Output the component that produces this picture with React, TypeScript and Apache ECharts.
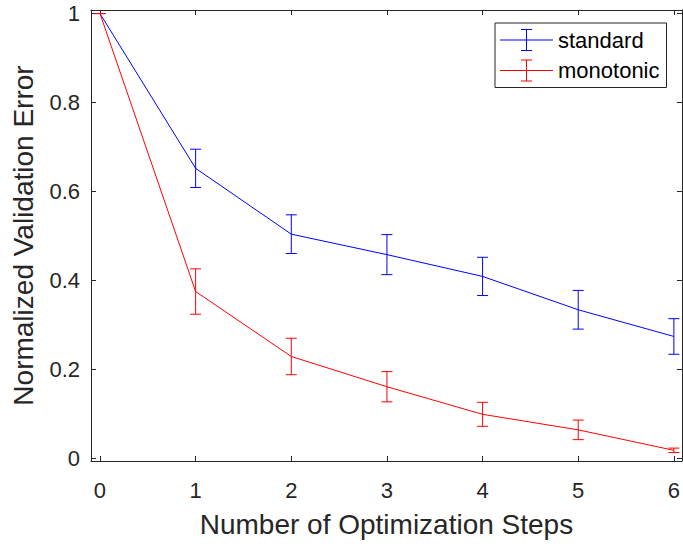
import React, { useEffect, useRef } from "react";
import * as echarts from "echarts";

const steps = [0, 1, 2, 3, 4, 5, 6];
const standardMean = [1, 0.652, 0.504, 0.458, 0.409, 0.334, 0.274];
const standardErr = [0, 0.043, 0.0435, 0.045, 0.043, 0.0435, 0.04];
const monotonicMean = [1, 0.375, 0.229, 0.161, 0.099, 0.064, 0.018];
const monotonicErr = [0, 0.051, 0.041, 0.034, 0.027, 0.022, 0.005];
const xTicks = [0, 1, 2, 3, 4, 5, 6];
const yTicks = [0, 0.2, 0.4, 0.6, 0.8, 1];
const seriesNames = ["standard", "monotonic"];

const BLUE = "#0000ff";
const RED = "#ff0000";
const AXIS = "#262626";
const FONT = "'Liberation Sans', Arial, sans-serif";

const legendIcon =
  "path://M0 10.5h53v1h-53zM26 0h1v22h-1zM21 0h11v1h-11zM21 21h11v1h-11z";

function errRender(color: string) {
  return (params: any, api: any) => {
    const x = api.value(0);
    const y = api.value(1);
    const e = api.value(2);
    const top = api.coord([x, y + e]);
    const bot = api.coord([x, y - e]);
    const hw = 5.5;
    const st = { stroke: color, lineWidth: 1 };
    return {
      type: "group",
      children: [
        { type: "line", shape: { x1: top[0], y1: top[1], x2: bot[0], y2: bot[1] }, style: st },
        { type: "line", shape: { x1: top[0] - hw, y1: top[1], x2: top[0] + hw, y2: top[1] }, style: st },
        { type: "line", shape: { x1: bot[0] - hw, y1: bot[1], x2: bot[0] + hw, y2: bot[1] }, style: st },
      ],
    };
  };
}

export default function App() {
  const ref = useRef<HTMLDivElement>(null);
  useEffect(() => {
    if (!ref.current) return;
    const chart = echarts.init(ref.current, undefined, { renderer: "svg" });
    const xMin = -0.094;
    const xMax = 6.084;
    const yMin = -0.006;
    const yMax = 1.008;
    const tickCommon = { show: true, inside: true, length: 5, lineStyle: { color: AXIS, width: 1 } };
    const lineCommon = { show: true, onZero: false, lineStyle: { color: AXIS, width: 1 } };
    const stdLine = steps.map((s, i) => [s, standardMean[i]]);
    const monLine = steps.map((s, i) => [s, monotonicMean[i]]);
    const stdErr = steps.map((s, i) => [s, standardMean[i], standardErr[i]]);
    const monErr = steps.map((s, i) => [s, monotonicMean[i], monotonicErr[i]]);
    chart.setOption({
      animation: false,
      backgroundColor: "#ffffff",
      grid: { left: 91, top: 10, right: 1, bottom: 83, containLabel: false },
      legend: {
        left: 495,
        top: 23,
        orient: "vertical",
        padding: [6, 7, 6, 5],
        itemGap: 8.5,
        itemWidth: 53,
        itemHeight: 22,
        borderColor: AXIS,
        borderWidth: 1,
        backgroundColor: "#ffffff",
        textStyle: { fontFamily: FONT, fontSize: 22, color: "#000000", padding: [0, 0, 0, 0] },
        data: [
          { name: seriesNames[0], icon: legendIcon, itemStyle: { color: BLUE } },
          { name: seriesNames[1], icon: legendIcon, itemStyle: { color: RED } },
        ],
        selectedMode: false,
      },
      xAxis: [
        {
          type: "value",
          min: xMin,
          max: xMax,
          position: "bottom",
          axisLine: lineCommon,
          axisTick: { ...tickCommon, customValues: xTicks },
          axisLabel: { customValues: xTicks, fontFamily: FONT, fontSize: 22, color: AXIS, margin: 18 },
          splitLine: { show: false },
          name: "Number of Optimization Steps",
          nameLocation: "middle",
          nameGap: 49,
          nameTextStyle: { fontFamily: FONT, fontSize: 28, color: AXIS },
        },
        {
          type: "value",
          min: xMin,
          max: xMax,
          position: "top",
          axisLine: lineCommon,
          axisTick: { ...tickCommon, customValues: xTicks },
          axisLabel: { show: false },
          splitLine: { show: false },
        },
      ],
      yAxis: [
        {
          type: "value",
          min: yMin,
          max: yMax,
          position: "left",
          axisLine: lineCommon,
          axisTick: { ...tickCommon, customValues: yTicks },
          axisLabel: { customValues: yTicks, fontFamily: FONT, fontSize: 22, color: AXIS, margin: 11 },
          splitLine: { show: false },
          name: "Normalized Validation Error",
          nameLocation: "middle",
          nameGap: 54,
          nameTextStyle: { fontFamily: FONT, fontSize: 28, color: AXIS },
        },
        {
          type: "value",
          min: yMin,
          max: yMax,
          position: "right",
          axisLine: lineCommon,
          axisTick: { ...tickCommon, customValues: yTicks },
          axisLabel: { show: false },
          splitLine: { show: false },
        },
      ],
      series: [
        {
          name: seriesNames[0],
          type: "line",
          data: stdLine,
          showSymbol: false,
          symbol: "none",
          lineStyle: { color: BLUE, width: 1 },
          itemStyle: { color: BLUE },
          z: 2,
        },
        {
          name: seriesNames[0],
          type: "custom",
          data: stdErr,
          encode: { x: 0, y: 1 },
          renderItem: errRender(BLUE),
          itemStyle: { color: BLUE },
          z: 3,
        },
        {
          name: seriesNames[1],
          type: "line",
          data: monLine,
          showSymbol: false,
          symbol: "none",
          lineStyle: { color: RED, width: 1 },
          itemStyle: { color: RED },
          z: 4,
        },
        {
          name: seriesNames[1],
          type: "custom",
          data: monErr,
          encode: { x: 0, y: 1 },
          renderItem: errRender(RED),
          itemStyle: { color: RED },
          z: 5,
        },
      ],
    });
    return () => chart.dispose();
  }, []);
  return (
    <div
      ref={ref}
      style={{ position: "fixed", left: 0, top: 0, width: 683, height: 544 }}
    />
  );
}
